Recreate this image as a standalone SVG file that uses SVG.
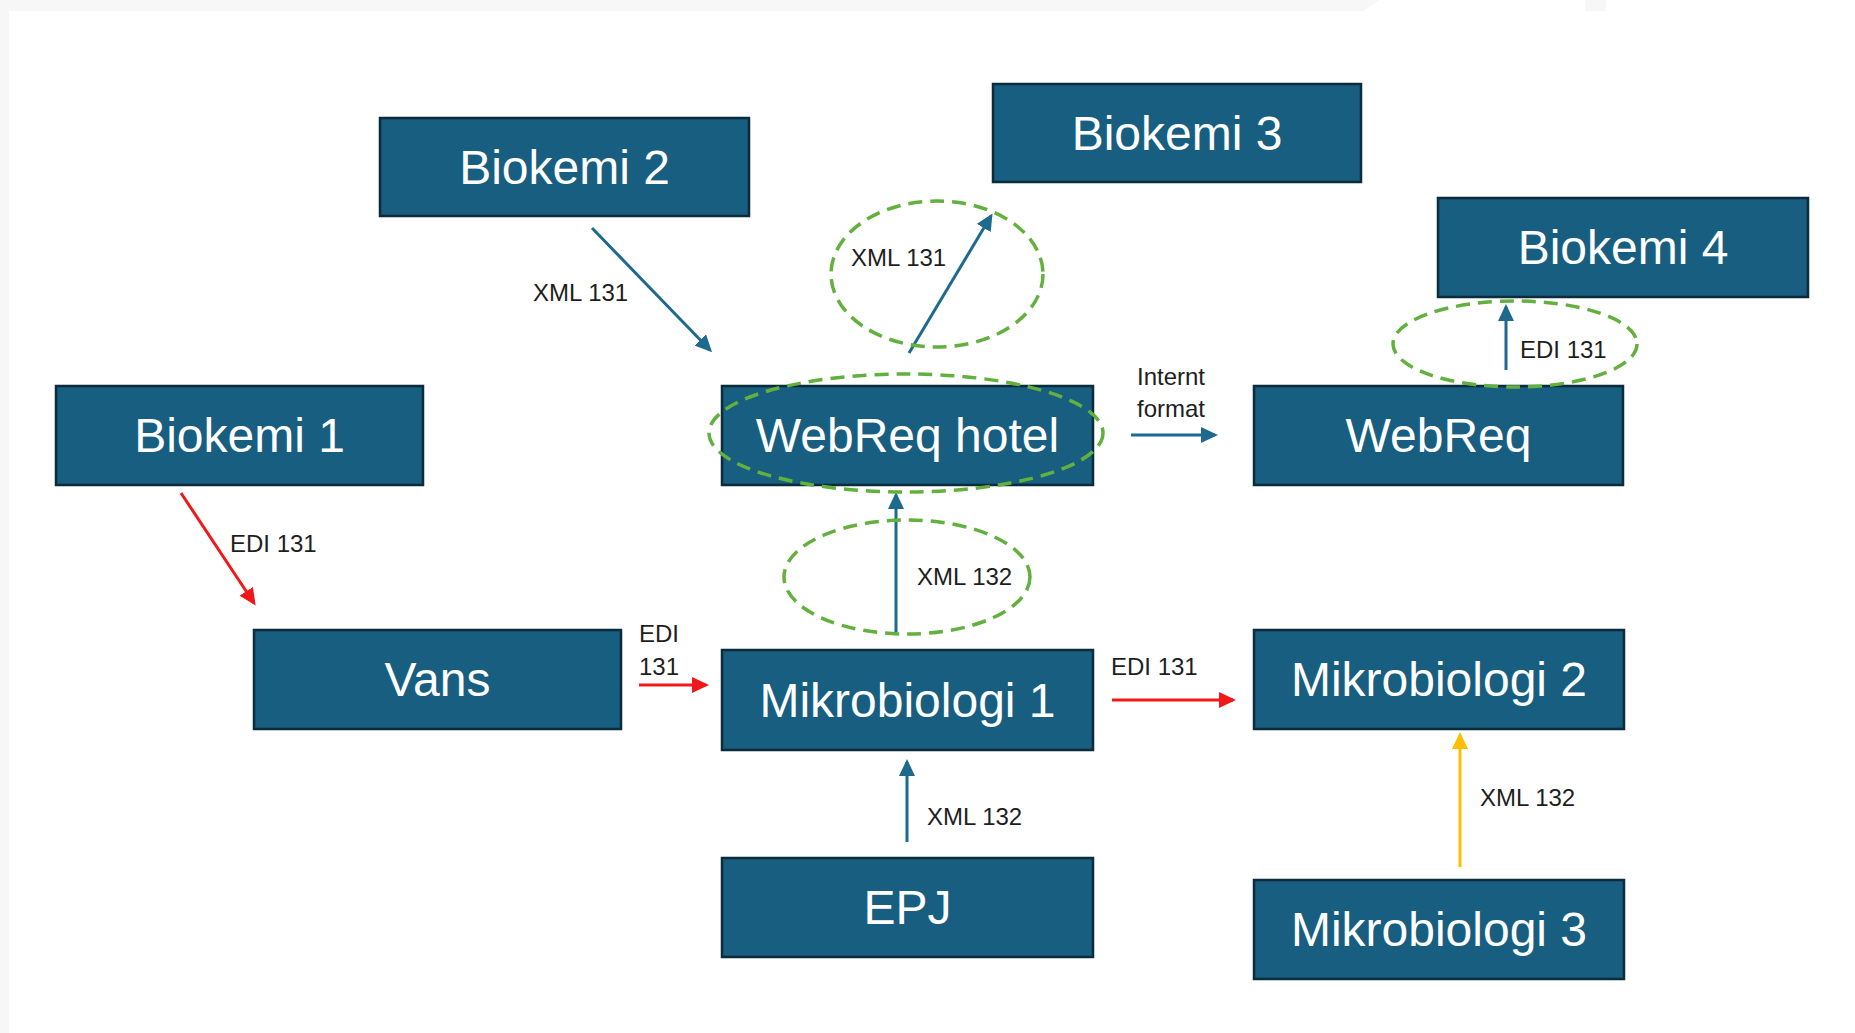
<svg xmlns="http://www.w3.org/2000/svg" width="1855" height="1033" viewBox="0 0 1855 1033">
<style>
.bg{fill:#f7f7f7}
.box{fill:#175e80;stroke:#0c2b3b;stroke-width:2.5}
.bt{font-family:"Liberation Sans",Arial,sans-serif;font-size:48px;fill:#ffffff;text-anchor:middle}
.lb{font-family:"Liberation Sans",Arial,sans-serif;font-size:24px;fill:#1e1e1e}
.blue{stroke:#1d6a8e;stroke-width:3;fill:none;marker-end:url(#ab)}
.red{stroke:#f01818;stroke-width:3;fill:none;marker-end:url(#ar)}
.yel{stroke:#ffbf00;stroke-width:3;fill:none;marker-end:url(#ay)}
.ell{fill:none;stroke:#62b03e;stroke-width:3.5;stroke-dasharray:14 8}
</style>
<defs>
<marker id="ab" markerUnits="userSpaceOnUse" markerWidth="18" markerHeight="16" refX="14" refY="8" orient="auto"><path d="M0,0 L17,8 L0,16 z" fill="#1d6a8e"/></marker>
<marker id="ar" markerUnits="userSpaceOnUse" markerWidth="18" markerHeight="16" refX="14" refY="8" orient="auto"><path d="M0,0 L17,8 L0,16 z" fill="#f01818"/></marker>
<marker id="ay" markerUnits="userSpaceOnUse" markerWidth="18" markerHeight="16" refX="14" refY="8" orient="auto"><path d="M0,0 L17,8 L0,16 z" fill="#ffbf00"/></marker>
</defs>
<rect x="0" y="0" width="1855" height="1033" fill="#ffffff"/>
<rect class="bg" x="0" y="0" width="9" height="1033"/>
<path class="bg" d="M0,0 H1380 L1363,11 H0 z"/>
<rect class="bg" x="1585" y="0" width="21" height="11"/>

<g id="connectors">
<line class="blue" x1="592" y1="228" x2="710" y2="350"/>
<line class="blue" x1="909" y1="353" x2="991" y2="216"/>
<line class="blue" x1="1131" y1="435" x2="1215" y2="435"/>
<line class="blue" x1="1506" y1="370" x2="1506" y2="307"/>
<line class="blue" x1="896" y1="632" x2="896" y2="495"/>
<line class="blue" x1="907" y1="842" x2="907" y2="762"/>
<line class="red" x1="1112" y1="700" x2="1233" y2="700"/>
<line class="red" x1="639" y1="685" x2="706" y2="685"/>
<line class="red" x1="181" y1="493" x2="254" y2="603"/>
<line class="yel" x1="1460" y1="867" x2="1460" y2="735"/>
<text class="lb" x="533" y="301">XML 131</text>
<text class="lb" x="851" y="266">XML 131</text>
<text class="lb" x="1171" y="385" text-anchor="middle">Internt</text>
<text class="lb" x="1171" y="417" text-anchor="middle">format</text>
<text class="lb" x="1520" y="358">EDI 131</text>
<text class="lb" x="917" y="585">XML 132</text>
<text class="lb" x="1111" y="675">EDI 131</text>
<text class="lb" x="639" y="642">EDI</text>
<text class="lb" x="639" y="675">131</text>
<text class="lb" x="230" y="552">EDI 131</text>
<text class="lb" x="927" y="825">XML 132</text>
<text class="lb" x="1480" y="806">XML 132</text>
</g>

<g id="biokemi2"><rect class="box" x="380" y="118" width="369" height="98"/><text class="bt" x="564.5" y="184">Biokemi 2</text></g>
<g id="biokemi3"><rect class="box" x="993" y="84" width="368" height="98"/><text class="bt" x="1177" y="150">Biokemi 3</text></g>
<g id="biokemi4"><rect class="box" x="1438" y="198" width="370" height="99"/><text class="bt" x="1623" y="264">Biokemi 4</text></g>
<g id="biokemi1"><rect class="box" x="56" y="386" width="367" height="99"/><text class="bt" x="239.5" y="452">Biokemi 1</text></g>
<g id="webreqhotel"><rect class="box" x="722" y="386" width="371" height="99"/><text class="bt" x="907.5" y="452">WebReq hotel</text></g>
<g id="webreq"><rect class="box" x="1254" y="386" width="369" height="99"/><text class="bt" x="1438.5" y="452">WebReq</text></g>
<g id="vans"><rect class="box" x="254" y="630" width="367" height="99"/><text class="bt" x="437.5" y="696">Vans</text></g>
<g id="mikrobiologi1"><rect class="box" x="722" y="650" width="371" height="100"/><text class="bt" x="907.5" y="717">Mikrobiologi 1</text></g>
<g id="mikrobiologi2"><rect class="box" x="1254" y="630" width="370" height="99"/><text class="bt" x="1439" y="696">Mikrobiologi 2</text></g>
<g id="epj"><rect class="box" x="722" y="858" width="371" height="99"/><text class="bt" x="907.5" y="924">EPJ</text></g>
<g id="mikrobiologi3"><rect class="box" x="1254" y="880" width="370" height="99"/><text class="bt" x="1439" y="946">Mikrobiologi 3</text></g>

<g id="highlights">
<ellipse class="ell" cx="937" cy="274" rx="106" ry="73"/>
<ellipse class="ell" cx="906" cy="433" rx="197" ry="59"/>
<ellipse class="ell" cx="907" cy="577" rx="123" ry="57"/>
<ellipse class="ell" cx="1515" cy="344" rx="122" ry="43"/>
</g>
</svg>
